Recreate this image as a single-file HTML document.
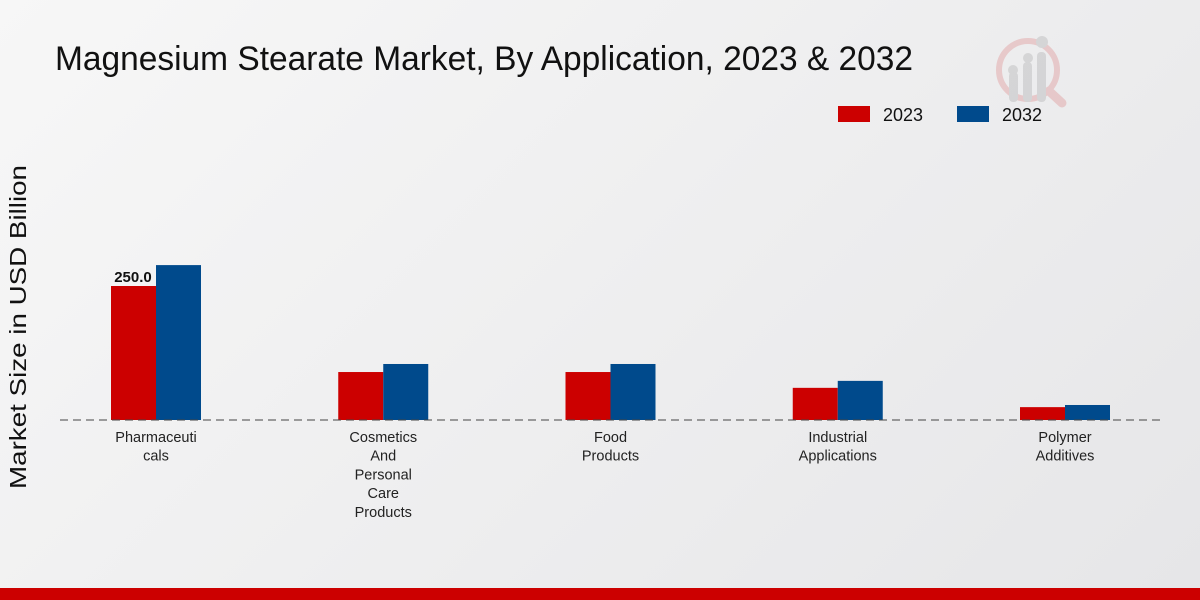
<!DOCTYPE html>
<html><head><meta charset="utf-8"><style>
body{margin:0;width:1200px;height:600px;overflow:hidden;background:linear-gradient(135deg,#f7f7f7 0%,#e6e6e8 100%);font-family:"Liberation Sans",sans-serif}
svg{position:absolute;left:0;top:0}
</style></head><body>
<svg width="1200" height="600">
<text x="55" y="70" font-size="34" textLength="858" lengthAdjust="spacingAndGlyphs" fill="#111">Magnesium Stearate Market, By Application, 2023 &amp; 2032</text>
<g opacity="0.35">
<circle cx="1028" cy="70" r="29" fill="none" stroke="#d88" stroke-width="6"/>
<line x1="1049" y1="91" x2="1062" y2="103" stroke="#d88" stroke-width="9" stroke-linecap="round"/>
<rect x="1009" y="72" width="9" height="30" rx="4" fill="#aaa"/><rect x="1023" y="62" width="9" height="40" rx="4" fill="#aaa"/><rect x="1037" y="52" width="9" height="50" rx="4" fill="#aaa"/>
<circle cx="1013" cy="70" r="5" fill="#aaa"/><circle cx="1028" cy="58" r="5" fill="#aaa"/><circle cx="1042" cy="42" r="6" fill="#aaa"/>
</g>
<g>
<rect x="838" y="106" width="32" height="16" fill="#cc0000"/>
<text x="883" y="121" font-size="18" textLength="40" lengthAdjust="spacingAndGlyphs" fill="#111">2023</text>
<rect x="957" y="106" width="32" height="16" fill="#004a8c"/>
<text x="1002" y="121" font-size="18" textLength="40" lengthAdjust="spacingAndGlyphs" fill="#111">2032</text>
</g>
<text transform="translate(26,327) rotate(-90)" text-anchor="middle" font-size="23" textLength="324" lengthAdjust="spacingAndGlyphs" fill="#111">Market Size in USD Billion</text>
<g id="plot"></g>
<line x1="60" y1="420" x2="1160" y2="420" stroke="#444" stroke-dasharray="8,5" stroke-width="1"/>
<rect x="0" y="588" width="1200" height="12" fill="#cc0000"/>
</svg>
<script>
const categories=[["Pharmaceuti","cals"],["Cosmetics","And","Personal","Care","Products"],["Food","Products"],["Industrial","Applications"],["Polymer","Additives"]];
const values2023=[250.0,89.5,89.5,60,24];
const values2032=[289,104.5,104.5,73,28];
const shownLabels=["250.0",null,null,null,null];
const ns="http://www.w3.org/2000/svg";
const g=document.getElementById('plot');
const x=i=>156+i*227.25;
const y=v=>420-v*0.536;
function mk(t,a){const e=document.createElementNS(ns,t);for(const k in a)e.setAttribute(k,a[k]);g.appendChild(e);return e;}
categories.forEach((c,i)=>{
 const b1=mk('rect',{x:x(i)-45,y:y(values2023[i]),width:45,height:420-y(values2023[i]),fill:'#cc0000'});
 
 
 const b2=mk('rect',{x:x(i),y:y(values2032[i]),width:45,height:420-y(values2032[i]),fill:'#004a8c'});
 
 
 if(shownLabels[i]){const t=mk('text',{x:x(i)-23,y:y(values2023[i])-4,'text-anchor':'middle','font-size':15,'font-weight':'bold',fill:'#111'});t.textContent=shownLabels[i];
 
 }
 c.forEach((l,j)=>{const t=mk('text',{x:x(i),y:442+j*18.7,'text-anchor':'middle','font-size':14.5,fill:'#222'});t.textContent=l;
 
 });
});
</script>
</body></html>
